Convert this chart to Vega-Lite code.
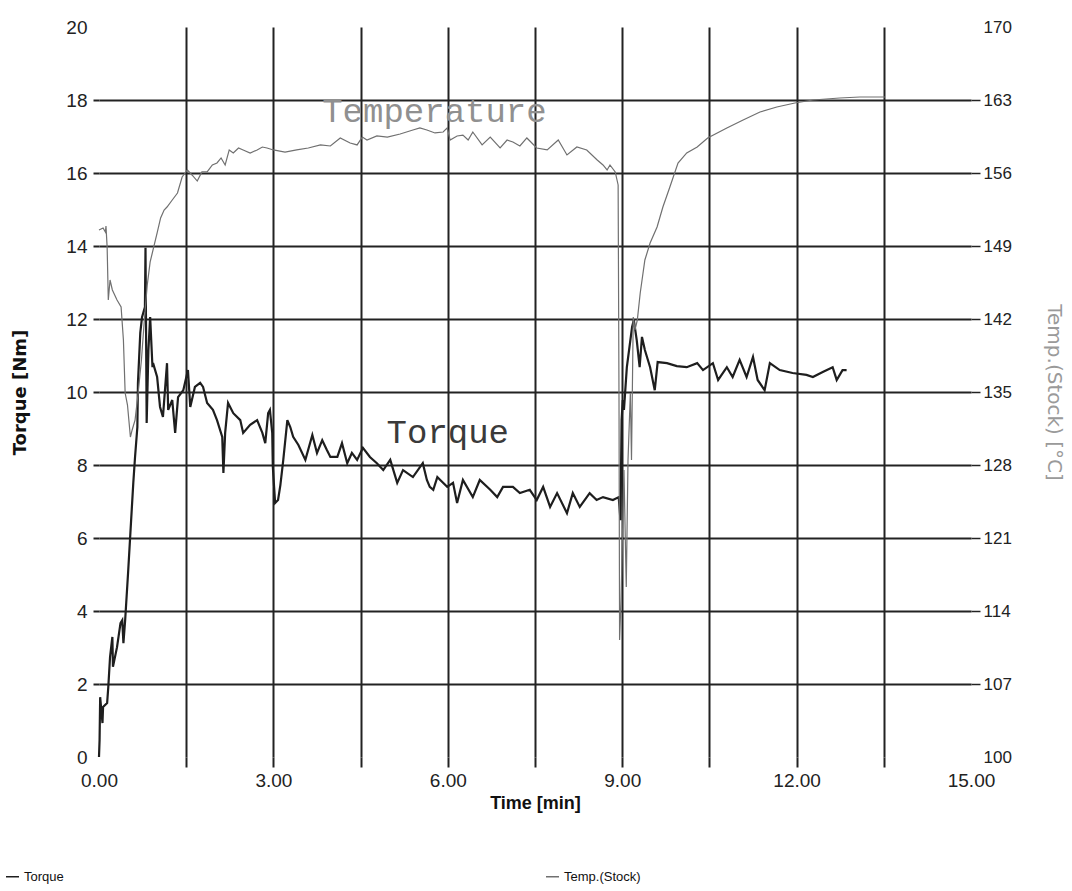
{
  "$schema": "https://vega.github.io/schema/vega-lite/v6.json",
  "width": 872,
  "height": 730,
  "autosize": "none",
  "padding": {"left": 99, "top": 27, "right": 101, "bottom": 134},
  "background": "white",
  "config": {
    "view": {"stroke": null},
    "legend": {"symbolStrokeColor": "#222", "symbolStrokeWidth": 1.5}
  },
  "datasets": {
    "torque": [
      {"t":0.00,"v":0.00},{"t":0.01,"v":0.47},{"t":0.02,"v":1.64},{"t":0.06,"v":0.93},{"t":0.07,"v":1.37},{"t":0.14,"v":1.48},{"t":0.16,"v":1.92},{"t":0.19,"v":2.74},{"t":0.23,"v":3.29},{"t":0.24,"v":2.47},{"t":0.31,"v":3.01},{"t":0.37,"v":3.67},{"t":0.40,"v":3.75},{"t":0.42,"v":3.12},{"t":0.45,"v":3.75},{"t":0.50,"v":5.04},{"t":0.54,"v":6.14},{"t":0.59,"v":7.51},{"t":0.62,"v":8.22},{"t":0.66,"v":9.04},{"t":0.67,"v":10.25},{"t":0.71,"v":11.62},{"t":0.74,"v":12.05},{"t":0.79,"v":12.33},{"t":0.80,"v":13.95},{"t":0.82,"v":9.15},{"t":0.85,"v":11.15},{"t":0.88,"v":12.05},{"t":0.92,"v":10.68},{"t":0.93,"v":10.79},{"t":1.00,"v":10.41},{"t":1.05,"v":9.59},{"t":1.10,"v":9.32},{"t":1.17,"v":10.79},{"t":1.19,"v":9.51},{"t":1.26,"v":9.78},{"t":1.31,"v":8.88},{"t":1.36,"v":9.86},{"t":1.45,"v":10.05},{"t":1.53,"v":10.60},{"t":1.57,"v":9.59},{"t":1.65,"v":10.14},{"t":1.74,"v":10.25},{"t":1.79,"v":10.14},{"t":1.86,"v":9.70},{"t":1.96,"v":9.51},{"t":2.03,"v":9.23},{"t":2.12,"v":8.77},{"t":2.14,"v":7.78},{"t":2.17,"v":8.88},{"t":2.22,"v":9.70},{"t":2.31,"v":9.42},{"t":2.43,"v":9.23},{"t":2.48,"v":8.88},{"t":2.60,"v":9.10},{"t":2.72,"v":9.23},{"t":2.81,"v":8.88},{"t":2.86,"v":8.60},{"t":2.91,"v":9.42},{"t":2.94,"v":9.51},{"t":2.98,"v":8.88},{"t":2.99,"v":7.95},{"t":3.03,"v":6.96},{"t":3.08,"v":7.04},{"t":3.12,"v":7.45},{"t":3.17,"v":8.14},{"t":3.24,"v":9.23},{"t":3.29,"v":9.04},{"t":3.34,"v":8.77},{"t":3.43,"v":8.55},{"t":3.55,"v":8.14},{"t":3.67,"v":8.82},{"t":3.75,"v":8.33},{"t":3.84,"v":8.68},{"t":3.92,"v":8.41},{"t":3.98,"v":8.22},{"t":4.10,"v":8.22},{"t":4.18,"v":8.60},{"t":4.27,"v":8.05},{"t":4.35,"v":8.33},{"t":4.44,"v":8.14},{"t":4.54,"v":8.47},{"t":4.66,"v":8.22},{"t":4.78,"v":8.05},{"t":4.89,"v":7.86},{"t":5.01,"v":8.14},{"t":5.13,"v":7.51},{"t":5.23,"v":7.86},{"t":5.40,"v":7.67},{"t":5.57,"v":8.05},{"t":5.64,"v":7.59},{"t":5.69,"v":7.40},{"t":5.75,"v":7.32},{"t":5.82,"v":7.67},{"t":5.87,"v":7.59},{"t":5.99,"v":7.40},{"t":6.09,"v":7.51},{"t":6.16,"v":6.96},{"t":6.26,"v":7.59},{"t":6.43,"v":7.12},{"t":6.55,"v":7.59},{"t":6.73,"v":7.32},{"t":6.85,"v":7.12},{"t":6.95,"v":7.40},{"t":7.12,"v":7.40},{"t":7.24,"v":7.23},{"t":7.41,"v":7.32},{"t":7.53,"v":7.04},{"t":7.64,"v":7.40},{"t":7.76,"v":6.85},{"t":7.88,"v":7.23},{"t":8.05,"v":6.68},{"t":8.15,"v":7.23},{"t":8.27,"v":6.85},{"t":8.44,"v":7.23},{"t":8.56,"v":7.04},{"t":8.67,"v":7.12},{"t":8.84,"v":7.04},{"t":8.94,"v":7.12},{"t":8.97,"v":6.49},{"t":8.99,"v":9.23},{"t":9.01,"v":9.78},{"t":9.03,"v":9.51},{"t":9.08,"v":10.68},{"t":9.17,"v":11.78},{"t":9.20,"v":11.97},{"t":9.25,"v":11.42},{"t":9.30,"v":10.68},{"t":9.34,"v":11.51},{"t":9.39,"v":11.15},{"t":9.48,"v":10.68},{"t":9.56,"v":10.05},{"t":9.61,"v":10.82},{"t":9.77,"v":10.79},{"t":9.94,"v":10.71},{"t":10.11,"v":10.68},{"t":10.29,"v":10.79},{"t":10.39,"v":10.60},{"t":10.56,"v":10.79},{"t":10.65,"v":10.33},{"t":10.80,"v":10.68},{"t":10.90,"v":10.41},{"t":11.02,"v":10.88},{"t":11.14,"v":10.41},{"t":11.25,"v":10.96},{"t":11.33,"v":10.33},{"t":11.45,"v":10.05},{"t":11.54,"v":10.79},{"t":11.71,"v":10.60},{"t":11.93,"v":10.52},{"t":12.17,"v":10.47},{"t":12.28,"v":10.41},{"t":12.45,"v":10.55},{"t":12.62,"v":10.68},{"t":12.69,"v":10.33},{"t":12.79,"v":10.60},{"t":12.86,"v":10.60}
    ],
    "temp": [
      {"t":0.00,"v":150.53},{"t":0.07,"v":150.73},{"t":0.11,"v":150.34},{"t":0.12,"v":150.92},{"t":0.14,"v":148.90},{"t":0.16,"v":143.82},{"t":0.19,"v":145.74},{"t":0.23,"v":144.78},{"t":0.31,"v":143.82},{"t":0.38,"v":143.15},{"t":0.42,"v":139.99},{"t":0.45,"v":134.90},{"t":0.49,"v":133.75},{"t":0.54,"v":130.68},{"t":0.57,"v":131.36},{"t":0.62,"v":132.31},{"t":0.67,"v":134.71},{"t":0.73,"v":138.07},{"t":0.78,"v":141.90},{"t":0.83,"v":145.26},{"t":0.88,"v":147.47},{"t":0.95,"v":149.10},{"t":1.00,"v":150.25},{"t":1.06,"v":151.69},{"t":1.12,"v":152.45},{"t":1.17,"v":152.74},{"t":1.26,"v":153.41},{"t":1.35,"v":154.08},{"t":1.43,"v":155.62},{"t":1.52,"v":156.29},{"t":1.60,"v":155.81},{"t":1.69,"v":155.23},{"t":1.77,"v":156.10},{"t":1.86,"v":156.10},{"t":1.95,"v":156.77},{"t":2.03,"v":156.96},{"t":2.10,"v":157.44},{"t":2.17,"v":156.77},{"t":2.24,"v":158.21},{"t":2.31,"v":157.92},{"t":2.40,"v":158.40},{"t":2.48,"v":158.21},{"t":2.60,"v":157.92},{"t":2.72,"v":158.21},{"t":2.81,"v":158.49},{"t":2.89,"v":158.40},{"t":3.00,"v":158.21},{"t":3.20,"v":158.01},{"t":3.40,"v":158.21},{"t":3.60,"v":158.40},{"t":3.81,"v":158.69},{"t":3.98,"v":158.59},{"t":4.15,"v":159.36},{"t":4.32,"v":158.88},{"t":4.44,"v":158.69},{"t":4.53,"v":159.45},{"t":4.61,"v":159.16},{"t":4.78,"v":159.55},{"t":4.96,"v":159.45},{"t":5.18,"v":159.74},{"t":5.40,"v":160.12},{"t":5.52,"v":160.32},{"t":5.64,"v":160.12},{"t":5.78,"v":159.84},{"t":5.92,"v":159.93},{"t":5.99,"v":160.32},{"t":6.04,"v":159.16},{"t":6.16,"v":159.55},{"t":6.26,"v":159.64},{"t":6.35,"v":159.16},{"t":6.43,"v":159.93},{"t":6.59,"v":158.69},{"t":6.73,"v":159.45},{"t":6.90,"v":158.40},{"t":7.02,"v":159.16},{"t":7.12,"v":158.97},{"t":7.24,"v":158.59},{"t":7.36,"v":159.36},{"t":7.53,"v":158.40},{"t":7.71,"v":158.21},{"t":7.90,"v":159.16},{"t":8.05,"v":157.73},{"t":8.22,"v":158.49},{"t":8.39,"v":158.21},{"t":8.57,"v":157.25},{"t":8.67,"v":156.77},{"t":8.74,"v":156.29},{"t":8.79,"v":156.77},{"t":8.88,"v":156.10},{"t":8.93,"v":154.85},{"t":8.945,"v":134.23},{"t":8.955,"v":111.22},{"t":8.98,"v":115.05},{"t":9.03,"v":127.52},{"t":9.07,"v":116.30},{"t":9.10,"v":128.48},{"t":9.14,"v":134.90},{"t":9.16,"v":128.48},{"t":9.19,"v":142.19},{"t":9.22,"v":140.95},{"t":9.26,"v":141.90},{"t":9.31,"v":144.49},{"t":9.39,"v":147.66},{"t":9.48,"v":149.29},{"t":9.60,"v":150.82},{"t":9.70,"v":152.74},{"t":9.82,"v":154.66},{"t":9.96,"v":156.96},{"t":10.11,"v":157.92},{"t":10.29,"v":158.49},{"t":10.47,"v":159.36},{"t":10.80,"v":160.32},{"t":11.08,"v":161.08},{"t":11.37,"v":161.85},{"t":11.66,"v":162.33},{"t":11.97,"v":162.71},{"t":12.28,"v":163.00},{"t":12.74,"v":163.19},{"t":13.09,"v":163.29},{"t":13.52,"v":163.29}
    ]
  },
  "layer": [
    {
      "layer": [
        {
          "data": {"name": "torque"},
          "mark": {"type": "line", "strokeWidth": 2.2, "clip": false},
          "encoding": {
            "x": {
              "field": "t", "type": "quantitative",
              "scale": {"domain": [0, 15], "nice": false, "zero": false},
              "axis": {
                "values": [0, 1.5, 3, 4.5, 6, 7.5, 9, 10.5, 12, 13.5, 15],
                "labelExpr": "datum.value % 3 === 0 ? format(datum.value, '.2f') : ''",
                "grid": true, "gridColor": "#222", "gridWidth": 2,
                "gridOpacity": {"condition": {"test": "datum.value === 0 || datum.value === 15", "value": 0}, "value": 1},
                "domain": false,
                "tickSize": 10, "tickWidth": 2, "tickColor": "#222",
                "tickOpacity": {"condition": {"test": "datum.value === 0 || datum.value === 15", "value": 0}, "value": 1},
                "labelFont": "Liberation Sans", "labelFontSize": 19, "labelColor": "#222", "labelPadding": 4,
                "labelFlush": false, "labelOverlap": false,
                "title": "Time [min]", "titleFont": "Liberation Sans", "titleFontSize": 18, "titleFontWeight": "bold", "titleColor": "#111", "titlePadding": 4
              }
            },
            "y": {
              "field": "v", "type": "quantitative",
              "scale": {"domain": [0, 20], "nice": false, "zero": false},
              "axis": {
                "orient": "left",
                "values": [0, 2, 4, 6, 8, 10, 12, 14, 16, 18, 20],
                "grid": true, "gridColor": "#222", "gridWidth": 2,
                "gridOpacity": {"condition": {"test": "datum.value === 0 || datum.value === 20", "value": 0}, "value": 1},
                "domain": false,
                "tickSize": 6, "tickWidth": 2, "tickColor": "#222",
                "tickOpacity": {"condition": {"test": "datum.value === 0 || datum.value === 20", "value": 0}, "value": 1},
                "labelFont": "Liberation Sans", "labelFontSize": 19, "labelColor": "#222", "labelPadding": 6,
                "labelFlush": false, "labelOverlap": false,
                "title": "Torque [Nm]", "titleFont": "DejaVu Sans", "titleFontSize": 18, "titleFontWeight": "bold", "titleColor": "#111", "titlePadding": 36
              }
            },
            "color": {
              "datum": "Torque",
              "scale": {"domain": ["Torque", "Temp.(Stock)"], "range": ["#1e1e1e", "#707070"]},
              "legend": {
                "orient": "none", "legendX": -94, "legendY": 842, "direction": "horizontal",
                "title": null, "symbolType": "stroke", "symbolSize": 170,
                "labelFont": "Liberation Sans", "labelFontSize": 13, "labelColor": "#111",
                "labelOffset": 4, "columnPadding": 478
              }
            }
          }
        },
        {
          "data": {"values": [{"t": 5.77, "v": 17.40, "label": "Temperature"}]},
          "mark": {"type": "text", "font": "Liberation Mono", "fontSize": 34, "color": "#909090", "baseline": "alphabetic", "align": "center"},
          "encoding": {
            "x": {"field": "t", "type": "quantitative"},
            "y": {"field": "v", "type": "quantitative"},
            "text": {"field": "label"}
          }
        },
        {
          "data": {"values": [{"t": 6.0, "v": 8.60, "label": "Torque"}]},
          "mark": {"type": "text", "font": "Liberation Mono", "fontSize": 34, "color": "#3a3a3a", "baseline": "alphabetic", "align": "center"},
          "encoding": {
            "x": {"field": "t", "type": "quantitative"},
            "y": {"field": "v", "type": "quantitative"},
            "text": {"field": "label"}
          }
        }
      ]
    },
    {
      "data": {"name": "temp"},
      "mark": {"type": "line", "strokeWidth": 1.2, "clip": false},
      "encoding": {
        "x": {"field": "t", "type": "quantitative"},
        "y": {
          "field": "v", "type": "quantitative",
          "scale": {"domain": [100, 170], "nice": false, "zero": false},
          "axis": {
            "orient": "right",
            "values": [100, 107, 114, 121, 128, 135, 142, 149, 156, 163, 170],
            "grid": false, "domain": false,
            "tickSize": 9, "tickWidth": 1.5, "tickColor": "#222",
            "tickOpacity": {"condition": {"test": "datum.value === 100 || datum.value === 170", "value": 0}, "value": 1},
            "labelFont": "Liberation Sans", "labelFontSize": 17, "labelColor": "#222", "labelPadding": 3,
            "labelFlush": false, "labelOverlap": false,
            "title": "Temp.(Stock) [°C]", "titleAngle": 90, "titleFont": "DejaVu Sans", "titleFontSize": 20, "titleFontWeight": "normal", "titleColor": "#9a9a9a", "titlePadding": 32
          }
        },
        "color": {"datum": "Temp.(Stock)"}
      }
    }
  ],
  "resolve": {"scale": {"y": "independent"}}
}
